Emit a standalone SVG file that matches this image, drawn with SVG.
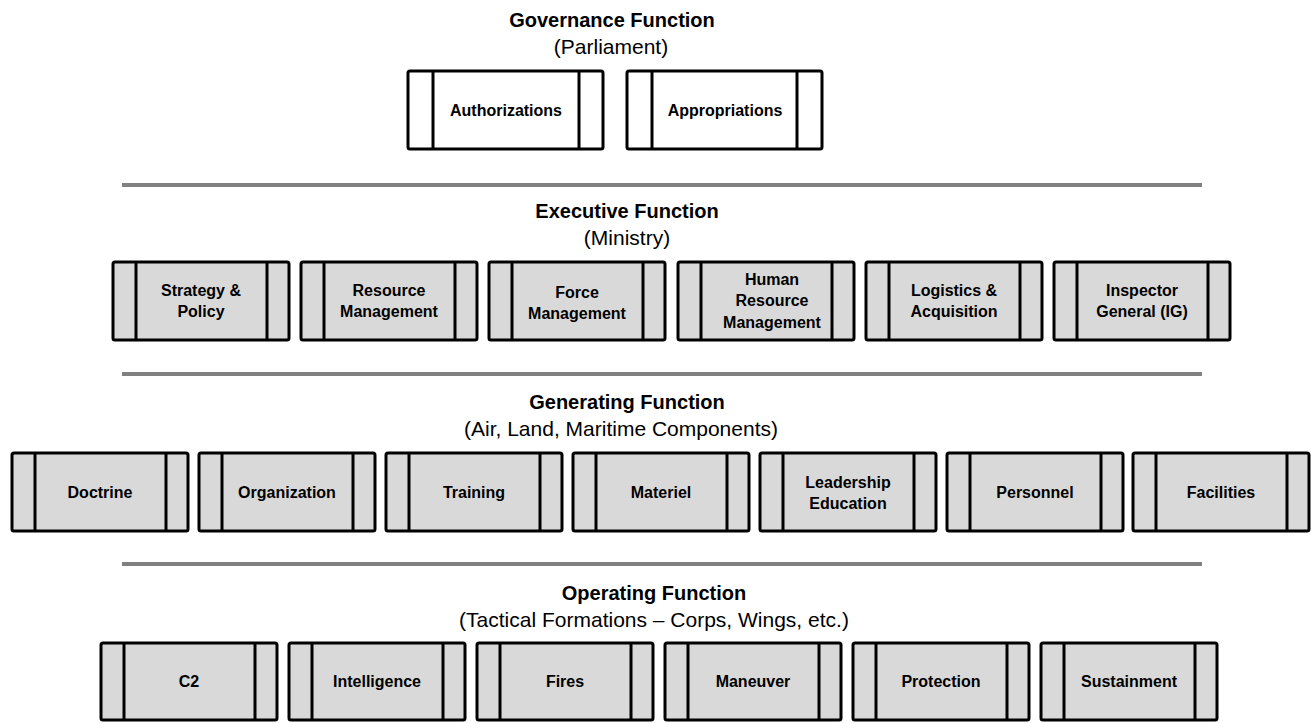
<svg xmlns="http://www.w3.org/2000/svg" width="1311" height="723" viewBox="0 0 1311 723">
<style>
  .bg { fill: #ffffff; }
  .box { fill: #d9d9d9; stroke: #000000; stroke-width: 3; }
  .box.white { fill: #ffffff; }
  .bar { stroke: #000000; stroke-width: 3; }
  .sep { stroke: #808080; stroke-width: 4; }
  .lbl { font-family: "Liberation Sans", Arial, sans-serif; font-weight: bold; font-size: 16px; fill: #000000; text-anchor: middle; }
  .title { font-family: "Liberation Sans", Arial, sans-serif; font-weight: bold; font-size: 20px; fill: #000000; text-anchor: middle; }
  .sub { font-family: "Liberation Sans", Arial, sans-serif; font-size: 21px; fill: #000000; text-anchor: middle; }
</style>
<rect class="bg" x="0" y="0" width="1311" height="723"/>

<g id="separators">
  <line class="sep" x1="122" y1="185" x2="1202" y2="185"/>
  <line class="sep" x1="122" y1="374" x2="1202" y2="374"/>
  <line class="sep" x1="122" y1="564" x2="1202" y2="564"/>
</g>

<g id="titles">
  <text class="title" x="612" y="27">Governance Function</text>
  <text class="sub" x="611" y="54">(Parliament)</text>
  <text class="title" x="627" y="218">Executive Function</text>
  <text class="sub" x="627" y="245">(Ministry)</text>
  <text class="title" x="627" y="409">Generating Function</text>
  <text class="sub" x="621" y="436">(Air, Land, Maritime Components)</text>
  <text class="title" x="654" y="600">Operating Function</text>
  <text class="sub" x="654" y="627">(Tactical Formations – Corps, Wings, etc.)</text>
</g>

<g id="connectors"></g>

<!-- Governance -->
<g id="authorizations">
  <rect class="box white" x="408" y="71" width="195" height="78" rx="2"/>
  <line class="bar" x1="433" y1="71" x2="433" y2="149"/>
  <line class="bar" x1="579" y1="71" x2="579" y2="149"/>
  <text class="lbl" x="506" y="116">Authorizations</text>
</g>
<g id="appropriations">
  <rect class="box white" x="627" y="71" width="195" height="78" rx="2"/>
  <line class="bar" x1="652" y1="71" x2="652" y2="149"/>
  <line class="bar" x1="797" y1="71" x2="797" y2="149"/>
  <text class="lbl" x="725" y="116">Appropriations</text>
</g>

<!-- Executive -->
<g id="strategy-policy">
  <rect class="box" x="113" y="262" width="176" height="78" rx="2"/>
  <line class="bar" x1="136" y1="262" x2="136" y2="340"/>
  <line class="bar" x1="267" y1="262" x2="267" y2="340"/>
  <text class="lbl" x="201" y="296">Strategy &amp;</text>
  <text class="lbl" x="201" y="317">Policy</text>
</g>
<g id="resource-management">
  <rect class="box" x="301" y="262" width="176" height="78" rx="2"/>
  <line class="bar" x1="324" y1="262" x2="324" y2="340"/>
  <line class="bar" x1="455" y1="262" x2="455" y2="340"/>
  <text class="lbl" x="389" y="296">Resource</text>
  <text class="lbl" x="389" y="317">Management</text>
</g>
<g id="force-management">
  <rect class="box" x="489" y="262" width="176" height="78" rx="2"/>
  <line class="bar" x1="512" y1="262" x2="512" y2="340"/>
  <line class="bar" x1="643" y1="262" x2="643" y2="340"/>
  <text class="lbl" x="577" y="298">Force</text>
  <text class="lbl" x="577" y="319">Management</text>
</g>
<g id="human-resource-management">
  <rect class="box" x="678" y="262" width="176" height="78" rx="2"/>
  <line class="bar" x1="701" y1="262" x2="701" y2="340"/>
  <line class="bar" x1="832" y1="262" x2="832" y2="340"/>
  <text class="lbl" x="772" y="285">Human</text>
  <text class="lbl" x="772" y="306">Resource</text>
  <text class="lbl" x="772" y="328">Management</text>
</g>
<g id="logistics-acquisition">
  <rect class="box" x="866" y="262" width="176" height="78" rx="2"/>
  <line class="bar" x1="889" y1="262" x2="889" y2="340"/>
  <line class="bar" x1="1020" y1="262" x2="1020" y2="340"/>
  <text class="lbl" x="954" y="296">Logistics &amp;</text>
  <text class="lbl" x="954" y="317">Acquisition</text>
</g>
<g id="inspector-general">
  <rect class="box" x="1054" y="262" width="176" height="78" rx="2"/>
  <line class="bar" x1="1077" y1="262" x2="1077" y2="340"/>
  <line class="bar" x1="1208" y1="262" x2="1208" y2="340"/>
  <text class="lbl" x="1142" y="296">Inspector</text>
  <text class="lbl" x="1142" y="317">General (IG)</text>
</g>

<!-- Generating -->
<g id="doctrine">
  <rect class="box" x="12" y="453" width="176" height="78" rx="2"/>
  <line class="bar" x1="35" y1="453" x2="35" y2="531"/>
  <line class="bar" x1="166" y1="453" x2="166" y2="531"/>
  <text class="lbl" x="100" y="498">Doctrine</text>
</g>
<g id="organization">
  <rect class="box" x="199" y="453" width="176" height="78" rx="2"/>
  <line class="bar" x1="222" y1="453" x2="222" y2="531"/>
  <line class="bar" x1="353" y1="453" x2="353" y2="531"/>
  <text class="lbl" x="287" y="498">Organization</text>
</g>
<g id="training">
  <rect class="box" x="386" y="453" width="176" height="78" rx="2"/>
  <line class="bar" x1="409" y1="453" x2="409" y2="531"/>
  <line class="bar" x1="540" y1="453" x2="540" y2="531"/>
  <text class="lbl" x="474" y="498">Training</text>
</g>
<g id="materiel">
  <rect class="box" x="573" y="453" width="176" height="78" rx="2"/>
  <line class="bar" x1="596" y1="453" x2="596" y2="531"/>
  <line class="bar" x1="727" y1="453" x2="727" y2="531"/>
  <text class="lbl" x="661" y="498">Materiel</text>
</g>
<g id="leadership-education">
  <rect class="box" x="760" y="453" width="176" height="78" rx="2"/>
  <line class="bar" x1="783" y1="453" x2="783" y2="531"/>
  <line class="bar" x1="914" y1="453" x2="914" y2="531"/>
  <text class="lbl" x="848" y="488">Leadership</text>
  <text class="lbl" x="848" y="509">Education</text>
</g>
<g id="personnel">
  <rect class="box" x="947" y="453" width="176" height="78" rx="2"/>
  <line class="bar" x1="970" y1="453" x2="970" y2="531"/>
  <line class="bar" x1="1101" y1="453" x2="1101" y2="531"/>
  <text class="lbl" x="1035" y="498">Personnel</text>
</g>
<g id="facilities">
  <rect class="box" x="1133" y="453" width="176" height="78" rx="2"/>
  <line class="bar" x1="1156" y1="453" x2="1156" y2="531"/>
  <line class="bar" x1="1287" y1="453" x2="1287" y2="531"/>
  <text class="lbl" x="1221" y="498">Facilities</text>
</g>

<!-- Operating -->
<g id="c2">
  <rect class="box" x="101" y="643" width="176" height="77" rx="2"/>
  <line class="bar" x1="124" y1="643" x2="124" y2="720"/>
  <line class="bar" x1="255" y1="643" x2="255" y2="720"/>
  <text class="lbl" x="189" y="687">C2</text>
</g>
<g id="intelligence">
  <rect class="box" x="289" y="643" width="176" height="77" rx="2"/>
  <line class="bar" x1="312" y1="643" x2="312" y2="720"/>
  <line class="bar" x1="443" y1="643" x2="443" y2="720"/>
  <text class="lbl" x="377" y="687">Intelligence</text>
</g>
<g id="fires">
  <rect class="box" x="477" y="643" width="176" height="77" rx="2"/>
  <line class="bar" x1="500" y1="643" x2="500" y2="720"/>
  <line class="bar" x1="631" y1="643" x2="631" y2="720"/>
  <text class="lbl" x="565" y="687">Fires</text>
</g>
<g id="maneuver">
  <rect class="box" x="665" y="643" width="176" height="77" rx="2"/>
  <line class="bar" x1="688" y1="643" x2="688" y2="720"/>
  <line class="bar" x1="819" y1="643" x2="819" y2="720"/>
  <text class="lbl" x="753" y="687">Maneuver</text>
</g>
<g id="protection">
  <rect class="box" x="853" y="643" width="176" height="77" rx="2"/>
  <line class="bar" x1="876" y1="643" x2="876" y2="720"/>
  <line class="bar" x1="1007" y1="643" x2="1007" y2="720"/>
  <text class="lbl" x="941" y="687">Protection</text>
</g>
<g id="sustainment">
  <rect class="box" x="1041" y="643" width="176" height="77" rx="2"/>
  <line class="bar" x1="1064" y1="643" x2="1064" y2="720"/>
  <line class="bar" x1="1195" y1="643" x2="1195" y2="720"/>
  <text class="lbl" x="1129" y="687">Sustainment</text>
</g>
</svg>
